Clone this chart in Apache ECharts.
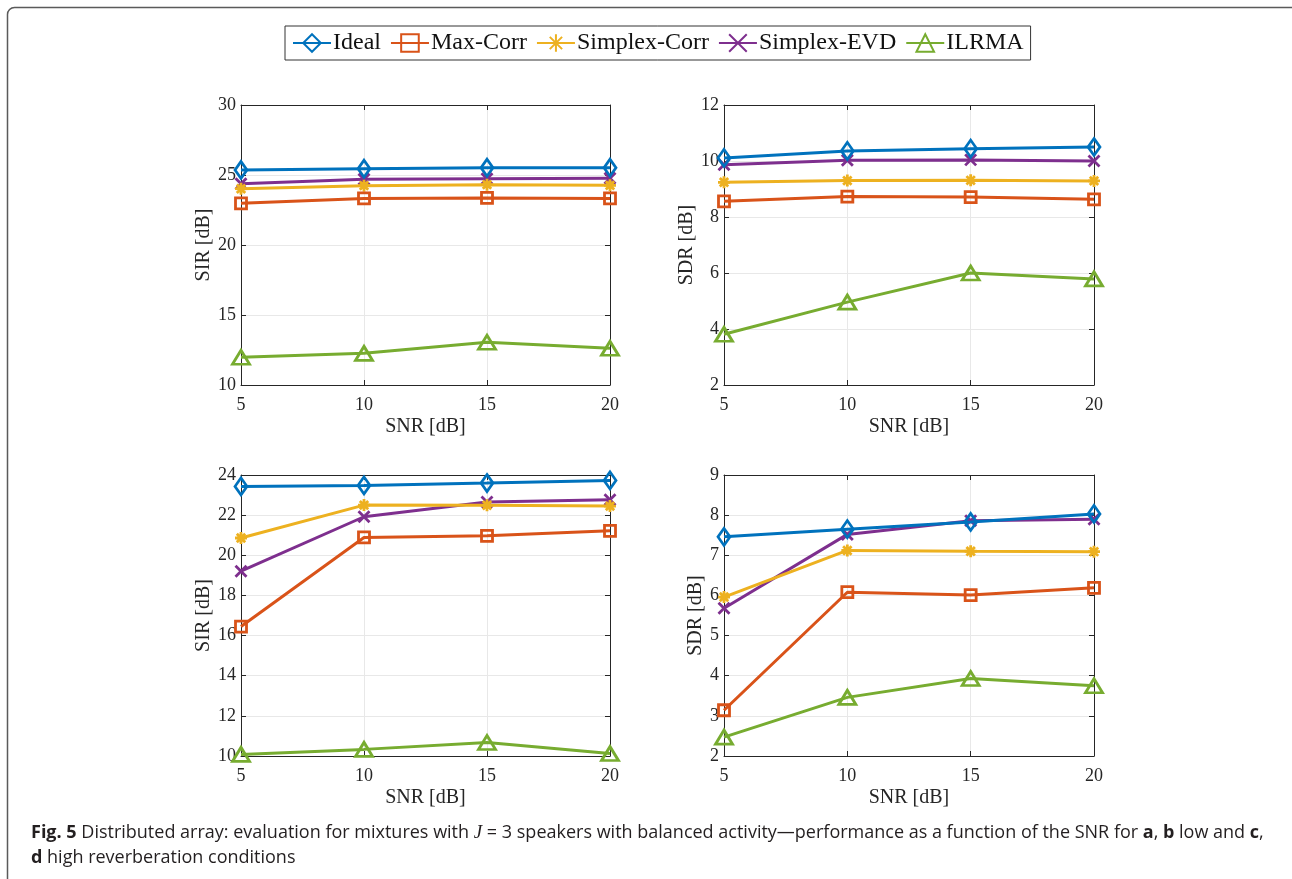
<!DOCTYPE html>
<html>
<head>
<meta charset="utf-8">
<script src="https://cdn.jsdelivr.net/npm/echarts@6/dist/echarts.min.js"></script>
<style>
  html, body { margin: 0; padding: 0; background: #fff; }
  #chart { width: 1292px; height: 879px; }
</style>
</head>
<body>
<div id="chart"></div>
<script>
// SNR values on the x axis of every panel
const snr = [5, 10, 15, 20];
const methods = ['Ideal', 'Max-Corr', 'Simplex-Corr', 'Simplex-EVD', 'ILRMA'];

// Rows follow the order of `methods`
// (a) SIR, low reverberation
const sirLow = [
  [25.36, 25.45, 25.52, 25.52],
  [22.98, 23.33, 23.36, 23.33],
  [24.02, 24.24, 24.31, 24.26],
  [24.38, 24.69, 24.74, 24.76],
  [11.98, 12.26, 13.05, 12.62]
];
// (b) SDR, low reverberation
const sdrLow = [
  [10.11, 10.36, 10.44, 10.50],
  [8.56, 8.73, 8.71, 8.63],
  [9.24, 9.30, 9.31, 9.29],
  [9.87, 10.03, 10.04, 10.00],
  [3.81, 4.96, 6.00, 5.79]
];
// (c) SIR, high reverberation
const sirHigh = [
  [23.43, 23.48, 23.60, 23.73],
  [16.45, 20.89, 20.97, 21.22],
  [20.86, 22.50, 22.49, 22.45],
  [19.21, 21.92, 22.66, 22.77],
  [10.08, 10.33, 10.67, 10.12]
];
// (d) SDR, high reverberation
const sdrHigh = [
  [7.46, 7.65, 7.83, 8.03],
  [3.14, 6.08, 6.01, 6.19],
  [5.96, 7.12, 7.10, 7.09],
  [5.68, 7.52, 7.86, 7.90],
  [2.47, 3.46, 3.93, 3.75]
];

// y-axis ranges: [min, max, interval]
const yRanges = [[10, 30, 5], [2, 12, 2], [10, 24, 2], [2, 9, 1]];
const yNames = ['SIR [dB]', 'SDR [dB]', 'SIR [dB]', 'SDR [dB]'];
const xName = 'SNR [dB]';

const colors = ['#0072BD', '#D95319', '#EDB120', '#7E2F8E', '#77AC30'];
const symbols = [
  'diamond',
  'rect',
  'path://M5,0L5,10M0,5L10,5M1.5,1.5L8.5,8.5M8.5,1.5L1.5,8.5',
  'path://M0,0L10,10M10,0L0,10',
  'triangle'
];
const symbolSizes = [[12, 17], [11, 11], [12, 12], [11, 11], [17, 14]];

const panels = [sirLow, sdrLow, sirHigh, sdrHigh];
const grids = [
  { left: 241, top: 105, width: 369, height: 280 },
  { left: 724, top: 105, width: 370, height: 280 },
  { left: 241, top: 475, width: 369, height: 281 },
  { left: 724, top: 475, width: 370, height: 281 }
];
const yNameGaps = [24, 25, 24, 15];

const serif = '"Liberation Serif", "Times New Roman", serif';
const sans = '"Open Sans", Lato, sans-serif';
const axisColor = '#262626';

const xAxes = [], yAxes = [], series = [];
panels.forEach((panel, g) => {
  const [ymin, ymax, yint] = yRanges[g];
  // bottom x axis
  xAxes.push({
    type: 'value', gridIndex: g, min: 5, max: 20, interval: 5, position: 'bottom',
    name: xName, nameLocation: 'middle', nameGap: 32,
    nameTextStyle: { fontFamily: serif, fontSize: 20, color: axisColor },
    axisLine: { show: true, lineStyle: { color: axisColor, width: 1 } },
    axisTick: { show: true, inside: true, length: 5, lineStyle: { color: axisColor } },
    axisLabel: { fontFamily: serif, fontSize: 18, color: axisColor, margin: 11 },
    splitLine: { show: true, lineStyle: { color: '#e8e8e8', width: 1 } }
  });
  // top x axis closing the box
  xAxes.push({
    type: 'value', gridIndex: g, min: 5, max: 20, interval: 5, position: 'top',
    axisLine: { show: true, lineStyle: { color: axisColor, width: 1 } },
    axisTick: { show: true, inside: true, length: 5, lineStyle: { color: axisColor } },
    axisLabel: { show: false }, splitLine: { show: false }
  });
  // left y axis
  yAxes.push({
    type: 'value', gridIndex: g, min: ymin, max: ymax, interval: yint, position: 'left',
    name: yNames[g], nameLocation: 'middle', nameGap: yNameGaps[g], nameRotate: 90,
    nameTextStyle: { fontFamily: serif, fontSize: 20, color: axisColor },
    axisLine: { show: true, lineStyle: { color: axisColor, width: 1 } },
    axisTick: { show: true, inside: true, length: 5, lineStyle: { color: axisColor } },
    axisLabel: { fontFamily: serif, fontSize: 18, color: axisColor, margin: 5 },
    splitLine: { show: true, lineStyle: { color: '#e8e8e8', width: 1 } }
  });
  // right y axis closing the box
  yAxes.push({
    type: 'value', gridIndex: g, min: ymin, max: ymax, interval: yint, position: 'right',
    axisLine: { show: true, lineStyle: { color: axisColor, width: 1 } },
    axisTick: { show: true, inside: true, length: 5, lineStyle: { color: axisColor } },
    axisLabel: { show: false }, splitLine: { show: false }
  });

  panel.forEach((vals, m) => {
    series.push({
      type: 'line',
      name: methods[m],
      xAxisIndex: 2 * g,
      yAxisIndex: 2 * g,
      data: snr.map((x, i) => [x, vals[i]]),
      symbol: symbols[m],
      symbolSize: symbolSizes[m],
      showAllSymbol: true,
      lineStyle: { color: colors[m], width: 3 },
      itemStyle: { color: 'rgba(255,255,255,0)', borderColor: colors[m], borderWidth: 2.8 },
      emphasis: { disabled: true },
      z: 10 - m
    });
  });
});

const chart = echarts.init(document.getElementById('chart'), null, { renderer: 'canvas' });
chart.setOption({
  animation: false,
  backgroundColor: '#ffffff',
  legend: {
    data: methods,
    left: 285, top: 26,
    orient: 'horizontal',
    itemWidth: 38, itemHeight: 22, itemGap: 9,
    padding: [5, 7],
    borderColor: '#333333', borderWidth: 1,
    textStyle: { fontFamily: serif, fontSize: 24, color: '#111111', padding: [0, 0, 0, -3] },
    selectedMode: false
  },
  grid: grids,
  xAxis: xAxes,
  yAxis: yAxes,
  series: series,
  graphic: [
    {
      type: 'rect', silent: true,
      shape: { x: 7.5, y: 7.5, width: 1300, height: 900, r: 7 },
      style: { fill: 'none', stroke: '#5a5a5a', lineWidth: 1.5 }
    },
    {
      type: 'text', left: 31, top: 823, silent: true,
      style: {
        text: '{b|Fig. 5} Distributed array: evaluation for mixtures with {i|J} = 3 speakers with balanced activity\u2014performance as a function of the SNR for {b|a}, {b|b} low and {b|c},',
        font: '18px ' + sans,
        fill: '#231f20',
        rich: {
          b: { fontWeight: 'bold', fontFamily: sans, fontSize: 18, fill: '#231f20' },
          i: { fontStyle: 'italic', fontFamily: serif, fontSize: 19, fill: '#231f20' }
        }
      }
    },
    {
      type: 'text', left: 31, top: 849, silent: true,
      style: {
        text: '{b|d} high reverberation conditions',
        font: '18px ' + sans,
        fill: '#231f20',
        rich: {
          b: { fontWeight: 'bold', fontFamily: sans, fontSize: 18, fill: '#231f20' }
        }
      }
    }
  ]
});
</script>
</body>
</html>
